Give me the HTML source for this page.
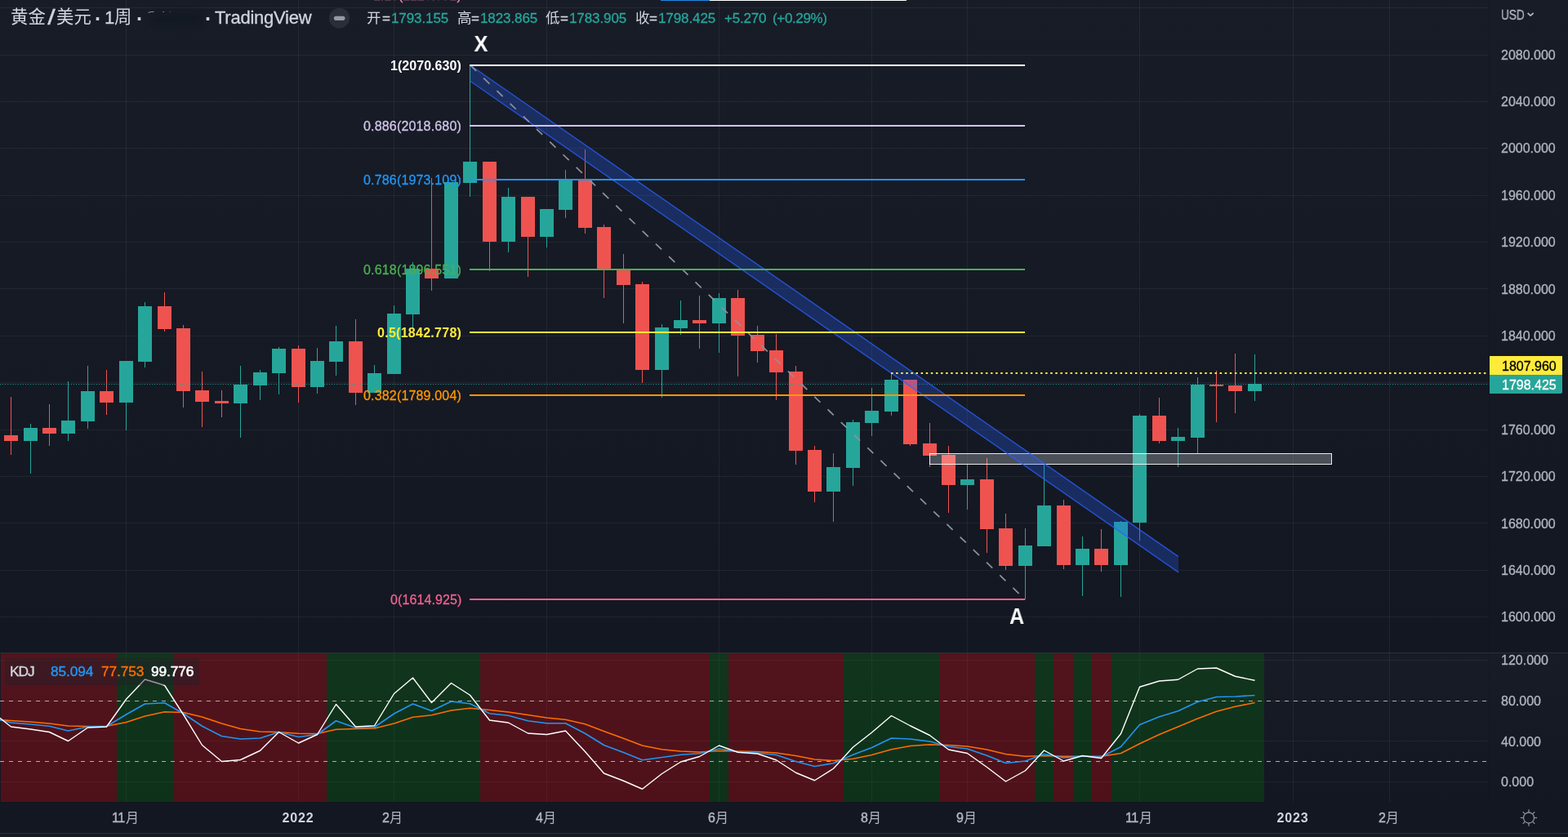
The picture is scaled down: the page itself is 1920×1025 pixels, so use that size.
<!DOCTYPE html>
<html lang="zh"><head><meta charset="utf-8"><title>黄金/美元 · 1周 · TradingView</title>
<style>
html,body{margin:0;padding:0;background:#131722;}
body{width:1920px;height:1025px;overflow:hidden;position:relative;font-family:"Liberation Sans","Noto Sans CJK SC",sans-serif;}
.t{position:absolute;white-space:nowrap;font-family:"Liberation Sans","Noto Sans CJK SC",sans-serif;will-change:transform;-webkit-text-stroke:0.3px;}
</style></head><body>
<svg width="1920" height="1025" viewBox="0 0 1920 1025" style="position:absolute;left:0;top:0">
<defs><linearGradient id="pg" x1="0" y1="0" x2="0" y2="1"><stop offset="0" stop-color="#181c27"/><stop offset="1" stop-color="#131722"/></linearGradient></defs>
<rect x="0" y="0" width="1920" height="1025" fill="#131722"/>
<rect x="0" y="0" width="1920" height="799" fill="url(#pg)"/>
<rect x="0" y="800" width="1920" height="182" fill="url(#pg)"/>
<rect x="0" y="1021" width="1920" height="4" fill="#161a25"/>
<g fill="#f0f3fa" fill-opacity="0.06" shape-rendering="crispEdges"><rect x="154" y="0" width="1" height="799"/><rect x="154" y="800" width="1" height="182"/><rect x="365" y="0" width="1" height="799"/><rect x="365" y="800" width="1" height="182"/><rect x="482" y="0" width="1" height="799"/><rect x="482" y="800" width="1" height="182"/><rect x="669" y="0" width="1" height="799"/><rect x="669" y="800" width="1" height="182"/><rect x="880" y="0" width="1" height="799"/><rect x="880" y="800" width="1" height="182"/><rect x="1067" y="0" width="1" height="799"/><rect x="1067" y="800" width="1" height="182"/><rect x="1184" y="0" width="1" height="799"/><rect x="1184" y="800" width="1" height="182"/><rect x="1395" y="0" width="1" height="799"/><rect x="1395" y="800" width="1" height="182"/><rect x="1583" y="0" width="1" height="799"/><rect x="1583" y="800" width="1" height="182"/><rect x="1701" y="0" width="1" height="799"/><rect x="1701" y="800" width="1" height="182"/><rect x="0" y="9" width="1823" height="1"/><rect x="0" y="67" width="1823" height="1"/><rect x="0" y="124" width="1823" height="1"/><rect x="0" y="181" width="1823" height="1"/><rect x="0" y="239" width="1823" height="1"/><rect x="0" y="296" width="1823" height="1"/><rect x="0" y="353" width="1823" height="1"/><rect x="0" y="411" width="1823" height="1"/><rect x="0" y="468" width="1823" height="1"/><rect x="0" y="526" width="1823" height="1"/><rect x="0" y="583" width="1823" height="1"/><rect x="0" y="640" width="1823" height="1"/><rect x="0" y="698" width="1823" height="1"/><rect x="0" y="755" width="1823" height="1"/><rect x="0" y="808" width="1823" height="1"/><rect x="0" y="858" width="1823" height="1"/><rect x="0" y="907" width="1823" height="1"/><rect x="0" y="957" width="1823" height="1"/></g>
<rect x="0" y="799" width="1920" height="1" fill="#2a2e39"/>
<rect x="0" y="1020" width="1920" height="1" fill="#2a2e39"/>
<rect x="1823" y="0" width="1" height="982" fill="#0a0d14" fill-opacity="0.35"/>
<g shape-rendering="crispEdges"><rect x="1" y="800" width="142" height="182" fill="rgba(255,0,0,0.25)"/><rect x="143" y="800" width="70" height="182" fill="rgba(0,128,0,0.25)"/><rect x="213" y="800" width="187" height="182" fill="rgba(255,0,0,0.25)"/><rect x="400" y="800" width="188" height="182" fill="rgba(0,128,0,0.25)"/><rect x="588" y="800" width="281" height="182" fill="rgba(255,0,0,0.25)"/><rect x="869" y="800" width="23" height="182" fill="rgba(0,128,0,0.25)"/><rect x="892" y="800" width="141" height="182" fill="rgba(255,0,0,0.25)"/><rect x="1033" y="800" width="117" height="182" fill="rgba(0,128,0,0.25)"/><rect x="1150" y="800" width="117" height="182" fill="rgba(255,0,0,0.25)"/><rect x="1267" y="800" width="23" height="182" fill="rgba(0,128,0,0.25)"/><rect x="1290" y="800" width="24" height="182" fill="rgba(255,0,0,0.25)"/><rect x="1314" y="800" width="23" height="182" fill="rgba(0,128,0,0.25)"/><rect x="1337" y="800" width="24" height="182" fill="rgba(255,0,0,0.25)"/><rect x="1361" y="800" width="187" height="182" fill="rgba(0,128,0,0.25)"/></g>
<g shape-rendering="crispEdges"><rect x="13" y="486" width="1" height="71" fill="#ef5350"/><rect x="5" y="533" width="17" height="7" fill="#ef5350"/><rect x="37" y="519" width="1" height="61" fill="#26a69a"/><rect x="29" y="524" width="17" height="16" fill="#26a69a"/><rect x="60" y="495" width="1" height="51" fill="#ef5350"/><rect x="52" y="524" width="17" height="7" fill="#ef5350"/><rect x="83" y="467" width="1" height="73" fill="#26a69a"/><rect x="75" y="515" width="17" height="16" fill="#26a69a"/><rect x="107" y="448" width="1" height="77" fill="#26a69a"/><rect x="99" y="479" width="17" height="37" fill="#26a69a"/><rect x="130" y="453" width="1" height="55" fill="#ef5350"/><rect x="122" y="479" width="17" height="14" fill="#ef5350"/><rect x="154" y="442" width="1" height="85" fill="#26a69a"/><rect x="146" y="442" width="17" height="51" fill="#26a69a"/><rect x="177" y="370" width="1" height="80" fill="#26a69a"/><rect x="169" y="375" width="17" height="68" fill="#26a69a"/><rect x="201" y="358" width="1" height="48" fill="#ef5350"/><rect x="193" y="375" width="17" height="28" fill="#ef5350"/><rect x="224" y="398" width="1" height="101" fill="#ef5350"/><rect x="216" y="402" width="17" height="77" fill="#ef5350"/><rect x="247" y="455" width="1" height="68" fill="#ef5350"/><rect x="239" y="478" width="17" height="14" fill="#ef5350"/><rect x="271" y="478" width="1" height="33" fill="#ef5350"/><rect x="263" y="491" width="17" height="3" fill="#ef5350"/><rect x="294" y="448" width="1" height="88" fill="#26a69a"/><rect x="286" y="471" width="17" height="23" fill="#26a69a"/><rect x="318" y="453" width="1" height="37" fill="#26a69a"/><rect x="310" y="456" width="17" height="16" fill="#26a69a"/><rect x="341" y="425" width="1" height="58" fill="#26a69a"/><rect x="333" y="427" width="17" height="30" fill="#26a69a"/><rect x="365" y="423" width="1" height="70" fill="#ef5350"/><rect x="357" y="427" width="17" height="47" fill="#ef5350"/><rect x="388" y="426" width="1" height="56" fill="#26a69a"/><rect x="380" y="442" width="17" height="32" fill="#26a69a"/><rect x="411" y="399" width="1" height="61" fill="#26a69a"/><rect x="403" y="418" width="17" height="25" fill="#26a69a"/><rect x="435" y="391" width="1" height="105" fill="#ef5350"/><rect x="427" y="418" width="17" height="63" fill="#ef5350"/><rect x="458" y="447" width="1" height="34" fill="#26a69a"/><rect x="450" y="457" width="17" height="24" fill="#26a69a"/><rect x="482" y="374" width="1" height="84" fill="#26a69a"/><rect x="474" y="384" width="17" height="74" fill="#26a69a"/><rect x="505" y="321" width="1" height="80" fill="#26a69a"/><rect x="497" y="329" width="17" height="56" fill="#26a69a"/><rect x="528" y="218" width="1" height="138" fill="#ef5350"/><rect x="520" y="329" width="17" height="12" fill="#ef5350"/><rect x="552" y="223" width="1" height="118" fill="#26a69a"/><rect x="544" y="223" width="17" height="118" fill="#26a69a"/><rect x="575" y="81" width="1" height="160" fill="#26a69a"/><rect x="567" y="198" width="17" height="26" fill="#26a69a"/><rect x="599" y="198" width="1" height="134" fill="#ef5350"/><rect x="591" y="198" width="17" height="98" fill="#ef5350"/><rect x="622" y="230" width="1" height="79" fill="#26a69a"/><rect x="614" y="241" width="17" height="55" fill="#26a69a"/><rect x="646" y="241" width="1" height="98" fill="#ef5350"/><rect x="638" y="241" width="17" height="49" fill="#ef5350"/><rect x="669" y="256" width="1" height="47" fill="#26a69a"/><rect x="661" y="256" width="17" height="34" fill="#26a69a"/><rect x="692" y="208" width="1" height="59" fill="#26a69a"/><rect x="684" y="221" width="17" height="36" fill="#26a69a"/><rect x="716" y="183" width="1" height="103" fill="#ef5350"/><rect x="708" y="220" width="17" height="59" fill="#ef5350"/><rect x="739" y="275" width="1" height="90" fill="#ef5350"/><rect x="731" y="278" width="17" height="51" fill="#ef5350"/><rect x="763" y="311" width="1" height="85" fill="#ef5350"/><rect x="755" y="331" width="17" height="18" fill="#ef5350"/><rect x="786" y="345" width="1" height="124" fill="#ef5350"/><rect x="778" y="348" width="17" height="105" fill="#ef5350"/><rect x="810" y="397" width="1" height="90" fill="#26a69a"/><rect x="802" y="401" width="17" height="52" fill="#26a69a"/><rect x="833" y="368" width="1" height="42" fill="#26a69a"/><rect x="825" y="392" width="17" height="10" fill="#26a69a"/><rect x="856" y="362" width="1" height="65" fill="#ef5350"/><rect x="848" y="392" width="17" height="4" fill="#ef5350"/><rect x="880" y="359" width="1" height="73" fill="#26a69a"/><rect x="872" y="365" width="17" height="31" fill="#26a69a"/><rect x="903" y="355" width="1" height="106" fill="#ef5350"/><rect x="895" y="365" width="17" height="46" fill="#ef5350"/><rect x="927" y="399" width="1" height="45" fill="#ef5350"/><rect x="919" y="410" width="17" height="20" fill="#ef5350"/><rect x="950" y="409" width="1" height="81" fill="#ef5350"/><rect x="942" y="429" width="17" height="27" fill="#ef5350"/><rect x="974" y="448" width="1" height="121" fill="#ef5350"/><rect x="966" y="455" width="17" height="97" fill="#ef5350"/><rect x="997" y="546" width="1" height="69" fill="#ef5350"/><rect x="989" y="551" width="17" height="51" fill="#ef5350"/><rect x="1020" y="555" width="1" height="84" fill="#26a69a"/><rect x="1012" y="572" width="17" height="30" fill="#26a69a"/><rect x="1044" y="514" width="1" height="81" fill="#26a69a"/><rect x="1036" y="517" width="17" height="56" fill="#26a69a"/><rect x="1067" y="475" width="1" height="59" fill="#26a69a"/><rect x="1059" y="503" width="17" height="15" fill="#26a69a"/><rect x="1091" y="457" width="1" height="52" fill="#26a69a"/><rect x="1083" y="465" width="17" height="39" fill="#26a69a"/><rect x="1114" y="465" width="1" height="81" fill="#ef5350"/><rect x="1106" y="465" width="17" height="79" fill="#ef5350"/><rect x="1138" y="518" width="1" height="54" fill="#ef5350"/><rect x="1130" y="543" width="17" height="15" fill="#ef5350"/><rect x="1161" y="546" width="1" height="82" fill="#ef5350"/><rect x="1153" y="557" width="17" height="37" fill="#ef5350"/><rect x="1184" y="569" width="1" height="55" fill="#26a69a"/><rect x="1176" y="587" width="17" height="7" fill="#26a69a"/><rect x="1208" y="561" width="1" height="116" fill="#ef5350"/><rect x="1200" y="587" width="17" height="61" fill="#ef5350"/><rect x="1231" y="629" width="1" height="69" fill="#ef5350"/><rect x="1223" y="647" width="17" height="46" fill="#ef5350"/><rect x="1255" y="647" width="1" height="87" fill="#26a69a"/><rect x="1247" y="668" width="17" height="25" fill="#26a69a"/><rect x="1278" y="569" width="1" height="100" fill="#26a69a"/><rect x="1270" y="619" width="17" height="50" fill="#26a69a"/><rect x="1302" y="612" width="1" height="85" fill="#ef5350"/><rect x="1294" y="619" width="17" height="73" fill="#ef5350"/><rect x="1325" y="657" width="1" height="73" fill="#26a69a"/><rect x="1317" y="672" width="17" height="20" fill="#26a69a"/><rect x="1348" y="648" width="1" height="52" fill="#ef5350"/><rect x="1340" y="672" width="17" height="20" fill="#ef5350"/><rect x="1372" y="638" width="1" height="93" fill="#26a69a"/><rect x="1364" y="639" width="17" height="53" fill="#26a69a"/><rect x="1395" y="507" width="1" height="155" fill="#26a69a"/><rect x="1387" y="509" width="17" height="131" fill="#26a69a"/><rect x="1419" y="487" width="1" height="56" fill="#ef5350"/><rect x="1411" y="509" width="17" height="31" fill="#ef5350"/><rect x="1442" y="524" width="1" height="48" fill="#26a69a"/><rect x="1434" y="535" width="17" height="5" fill="#26a69a"/><rect x="1466" y="462" width="1" height="93" fill="#26a69a"/><rect x="1458" y="471" width="17" height="65" fill="#26a69a"/><rect x="1489" y="454" width="1" height="63" fill="#ef5350"/><rect x="1481" y="471" width="17" height="2" fill="#ef5350"/><rect x="1512" y="433" width="1" height="73" fill="#ef5350"/><rect x="1504" y="472" width="17" height="7" fill="#ef5350"/><rect x="1536" y="434" width="1" height="57" fill="#26a69a"/><rect x="1528" y="470" width="17" height="9" fill="#26a69a"/></g>
<line x1="0" y1="470.5" x2="1823" y2="470.5" stroke="#26a69a" stroke-width="1" stroke-dasharray="1 2.1"/>
<rect x="1138.5" y="555.5" width="492" height="13" fill="#ffffff" fill-opacity="0.24" stroke="#ffffff" stroke-opacity="0.9" stroke-width="1"/>
<path d="M576 80 L1443 681.6 L1443 700.8 L576 99.5 Z" fill="#2962ff" fill-opacity="0.28"/>
<path d="M576 80 L1443 681.6 M576 99.5 L1443 700.8" stroke="#2962ff" stroke-opacity="0.75" stroke-width="1.4" fill="none"/>
<line x1="576" y1="80" x2="1254.5" y2="733.5" stroke="#8f929b" stroke-width="1.7" stroke-dasharray="10 12.5"/>
<g shape-rendering="crispEdges"><rect x="575" y="79" width="680" height="2" fill="#ffffff"/><rect x="575" y="153" width="680" height="2" fill="#d1c4e9"/><rect x="575" y="219" width="680" height="2" fill="#2196f3"/><rect x="575" y="329" width="680" height="2" fill="#4caf50"/><rect x="575" y="406" width="680" height="2" fill="#ffeb3b"/><rect x="575" y="483" width="680" height="2" fill="#ff9800"/><rect x="575" y="733" width="680" height="2" fill="#f06292"/><rect x="809" y="0" width="60" height="1" fill="#1e88e5"/><rect x="869" y="0" width="241" height="1" fill="#ffffff"/></g>
<line x1="1091" y1="457" x2="1823" y2="457" stroke="#ffeb3b" stroke-width="2" stroke-dasharray="2.5 3.6"/>
<line x1="0" y1="858.5" x2="1823" y2="858.5" stroke="#b0b0ab" stroke-width="1" stroke-dasharray="5 6"/>
<line x1="0" y1="932.5" x2="1823" y2="932.5" stroke="#b0b0ab" stroke-width="1" stroke-dasharray="5 6"/>
<polyline fill="none" stroke="#ff6d00" stroke-width="1.6" stroke-linejoin="round" points="-9.5,881.00 13.5,882.50 37.5,884.00 60.5,886.00 83.5,889.00 107.5,889.50 130.5,889.25 154.5,884.50 177.5,877.00 201.5,871.75 224.5,872.50 247.5,878.00 271.5,886.00 294.5,892.50 318.5,896.00 341.5,896.50 365.5,898.25 388.5,898.50 411.5,893.25 435.5,892.50 458.5,892.00 482.5,886.00 505.5,878.25 528.5,875.75 552.5,870.00 575.5,867.25 599.5,869.50 622.5,872.00 646.5,875.50 669.5,879.00 692.5,881.25 716.5,886.75 739.5,895.50 763.5,904.25 786.5,913.00 810.5,917.75 833.5,920.00 856.5,921.00 880.5,919.50 903.5,920.00 927.5,920.50 950.5,922.00 974.5,925.50 997.5,930.00 1020.5,931.50 1044.5,929.25 1067.5,924.50 1091.5,917.75 1114.5,913.50 1138.5,911.75 1161.5,912.50 1184.5,914.00 1208.5,918.00 1231.5,923.50 1255.5,926.25 1278.5,925.50 1302.5,926.25 1325.5,926.25 1348.5,926.25 1372.5,922.50 1395.5,910.75 1419.5,899.50 1442.5,890.00 1466.5,880.00 1489.5,871.25 1512.5,865.25 1536.5,860.50"/>
<polyline fill="none" stroke="#2196f3" stroke-width="1.6" stroke-linejoin="round" points="-9.5,879.50 13.5,885.00 37.5,887.00 60.5,889.25 83.5,895.00 107.5,890.00 130.5,889.50 154.5,875.00 177.5,862.00 201.5,860.75 224.5,873.75 247.5,889.25 271.5,901.50 294.5,905.00 318.5,904.00 341.5,896.50 365.5,902.50 388.5,899.50 411.5,882.75 435.5,891.25 458.5,890.50 482.5,874.00 505.5,862.00 528.5,870.50 552.5,859.00 575.5,861.75 599.5,873.75 622.5,876.25 646.5,882.75 669.5,885.75 692.5,885.75 716.5,898.25 739.5,912.50 763.5,921.50 786.5,930.75 810.5,927.50 833.5,924.25 856.5,922.75 880.5,917.00 903.5,920.50 927.5,922.00 950.5,924.50 974.5,932.50 997.5,938.50 1020.5,934.75 1044.5,924.25 1067.5,915.50 1091.5,904.00 1114.5,905.00 1138.5,908.00 1161.5,914.25 1184.5,917.00 1208.5,925.25 1231.5,934.50 1255.5,932.00 1278.5,923.50 1302.5,928.00 1325.5,926.00 1348.5,927.00 1372.5,914.50 1395.5,887.50 1419.5,877.75 1442.5,870.75 1466.5,859.50 1489.5,853.50 1512.5,853.00 1536.5,851.50"/>
<polyline fill="none" stroke="#ffffff" stroke-width="1.4" stroke-linejoin="round" points="-9.5,872.00 13.5,890.00 37.5,893.00 60.5,896.50 83.5,907.50 107.5,891.00 130.5,890.00 154.5,856.25 177.5,832.00 201.5,839.25 224.5,875.00 247.5,912.50 271.5,932.50 294.5,930.50 318.5,919.25 341.5,896.50 365.5,910.00 388.5,899.50 411.5,862.50 435.5,890.00 458.5,888.75 482.5,849.50 505.5,830.00 528.5,860.50 552.5,836.50 575.5,851.25 599.5,882.00 622.5,885.00 646.5,898.00 669.5,899.50 692.5,895.00 716.5,920.50 739.5,947.00 763.5,956.25 786.5,966.25 810.5,947.50 833.5,933.00 856.5,926.50 880.5,913.00 903.5,921.25 927.5,923.00 950.5,930.75 974.5,946.25 997.5,955.75 1020.5,941.25 1044.5,915.00 1067.5,897.00 1091.5,876.50 1114.5,888.75 1138.5,900.50 1161.5,918.00 1184.5,922.50 1208.5,939.50 1231.5,957.00 1255.5,943.75 1278.5,919.00 1302.5,932.00 1325.5,925.50 1348.5,928.50 1372.5,898.50 1395.5,841.25 1419.5,834.00 1442.5,832.25 1466.5,819.00 1489.5,818.00 1512.5,828.25 1536.5,833.25"/>
<rect x="6" y="806" width="238" height="33" rx="2" fill="#24202a" fill-opacity="0.45"/>
<rect x="1824" y="436" width="89" height="23" fill="#ffeb3b"/>
<path d="M1824 459 H1913 V480 Q1913 482 1911 482 H1824 Z" fill="#26a69a"/>
<circle cx="415.5" cy="22.2" r="12.5" fill="#2a2e39"/><rect x="408.8" y="19.7" width="13.7" height="5.2" rx="2.6" fill="#9698a2"/>
<path d="M1870.6 16 L1874.1 19.2 L1877.6 16" stroke="#b2b5be" stroke-width="1.7" fill="none"/>
<g stroke="#8a8e9c" stroke-width="1.3" fill="none"><circle cx="1872" cy="1001.5" r="6.5"/><line x1="1878.50" y1="1001.50" x2="1882.20" y2="1001.50"/><line x1="1876.60" y1="1006.10" x2="1879.21" y2="1008.71"/><line x1="1872.00" y1="1008.00" x2="1872.00" y2="1011.70"/><line x1="1867.40" y1="1006.10" x2="1864.79" y2="1008.71"/><line x1="1865.50" y1="1001.50" x2="1861.80" y2="1001.50"/><line x1="1867.40" y1="996.90" x2="1864.79" y2="994.29"/><line x1="1872.00" y1="995.00" x2="1872.00" y2="991.30"/><line x1="1876.60" y1="996.90" x2="1879.21" y2="994.29"/></g>
<defs><filter id="bl" x="-20%" y="-50%" width="140%" height="200%"><feGaussianBlur stdDeviation="3"/></filter></defs>
<g filter="url(#bl)" opacity="0.38"><rect x="186" y="15" width="30" height="17" rx="7" fill="#10131c"/><rect x="205" y="13" width="44" height="20" rx="9" fill="#11141d"/></g>
<path d="M181.5 15.6 Q183 14.3 188.5 14.4" stroke="#d1d4dc" stroke-opacity="0.7" stroke-width="0.9" fill="none"/><rect x="199.3" y="14" width="1.6" height="1" fill="#d1d4dc" fill-opacity="0.55"/><rect x="207.6" y="14.2" width="1.2" height="0.9" fill="#d1d4dc" fill-opacity="0.35"/>
</svg>
<div class="t" style="top:8.90px;font-size:22px;line-height:26.40px;color:#d1d4dc;left:59.9px;transform:scale(1.55,1.13);">/</div>
<div class="t" style="top:8.30px;font-size:25px;line-height:30.00px;color:#d1d4dc;left:116.0px;font-weight:700;-webkit-text-stroke:0;">·</div>
<div class="t" style="top:8.90px;font-size:22px;line-height:26.40px;color:#d1d4dc;left:128.2px;">1</div>
<div class="t" style="top:8.30px;font-size:25px;line-height:30.00px;color:#d1d4dc;left:166.7px;font-weight:700;-webkit-text-stroke:0;">·</div>
<div class="t" style="top:8.30px;font-size:25px;line-height:30.00px;color:#d1d4dc;left:251.0px;font-weight:700;-webkit-text-stroke:0;">·</div>
<div class="t" style="top:8.90px;font-size:22px;line-height:26.40px;color:#d1d4dc;left:262.6px;letter-spacing:-0.25px;">TradingView</div>
<div class="t" style="top:13.10px;font-size:17px;line-height:20.40px;color:#d1d4dc;left:467.7px;">=</div>
<div class="t" style="top:13.10px;font-size:17px;line-height:20.40px;color:#26a69a;left:479px;letter-spacing:-0.1px;">1793.155</div>
<div class="t" style="top:13.10px;font-size:17px;line-height:20.40px;color:#d1d4dc;left:576.7px;">=</div>
<div class="t" style="top:13.10px;font-size:17px;line-height:20.40px;color:#26a69a;left:588.2px;letter-spacing:-0.1px;">1823.865</div>
<div class="t" style="top:13.10px;font-size:17px;line-height:20.40px;color:#d1d4dc;left:686px;">=</div>
<div class="t" style="top:13.10px;font-size:17px;line-height:20.40px;color:#26a69a;left:697.2px;letter-spacing:-0.1px;">1783.905</div>
<div class="t" style="top:13.10px;font-size:17px;line-height:20.40px;color:#d1d4dc;left:795.3px;">=</div>
<div class="t" style="top:13.10px;font-size:17px;line-height:20.40px;color:#26a69a;left:806px;letter-spacing:-0.1px;">1798.425</div>
<div class="t" style="top:13.10px;font-size:17px;line-height:20.40px;color:#26a69a;left:886.7px;letter-spacing:-0.2px;">+5.270</div>
<div class="t" style="top:13.10px;font-size:17px;line-height:20.40px;color:#26a69a;left:946.2px;letter-spacing:-0.35px;">(+0.29%)</div>
<div class="t" style="top:37.00px;font-size:27.5px;line-height:33.00px;color:#ffffff;left:388.5px;width:400px;text-align:center;font-weight:700;-webkit-text-stroke:0;transform:scaleX(0.92);">X</div>
<div class="t" style="top:738.20px;font-size:28px;line-height:33.60px;color:#ffffff;left:1045px;width:400px;text-align:center;font-weight:700;-webkit-text-stroke:0;transform:scaleX(0.9);">A</div>
<div class="t" style="top:70.90px;font-size:16px;line-height:19.20px;color:#ffffff;right:1355px;font-weight:700;-webkit-text-stroke:0;letter-spacing:0.05px;">1(2070.630)</div>
<div class="t" style="top:145.40px;font-size:16px;line-height:19.20px;color:#d1c4e9;right:1355px;letter-spacing:0.17px;">0.886(2018.680)</div>
<div class="t" style="top:210.90px;font-size:16px;line-height:19.20px;color:#2196f3;right:1355px;letter-spacing:0.17px;">0.786(1973.109)</div>
<div class="t" style="top:320.90px;font-size:16px;line-height:19.20px;color:#4caf50;right:1355px;letter-spacing:0.17px;">0.618(1896.551)</div>
<div class="t" style="top:397.90px;font-size:16px;line-height:19.20px;color:#ffeb3b;right:1355px;font-weight:700;-webkit-text-stroke:0;letter-spacing:0.27px;">0.5(1842.778)</div>
<div class="t" style="top:474.90px;font-size:16px;line-height:19.20px;color:#ff9800;right:1355px;letter-spacing:0.17px;">0.382(1789.004)</div>
<div class="t" style="top:724.90px;font-size:16px;line-height:19.20px;color:#f06292;right:1355px;letter-spacing:0.1px;">0(1614.925)</div>
<div class="t" style="top:-14.60px;font-size:16px;line-height:19.20px;color:#f48fb1;right:1355.3px;letter-spacing:-0.05px;">1.13(2129.972)</div>
<div class="t" style="top:57.90px;font-size:16px;line-height:19.20px;color:#b2b5be;left:1838px;">2080.000</div>
<div class="t" style="top:114.90px;font-size:16px;line-height:19.20px;color:#b2b5be;left:1838px;">2040.000</div>
<div class="t" style="top:171.90px;font-size:16px;line-height:19.20px;color:#b2b5be;left:1838px;">2000.000</div>
<div class="t" style="top:229.90px;font-size:16px;line-height:19.20px;color:#b2b5be;left:1838px;">1960.000</div>
<div class="t" style="top:286.90px;font-size:16px;line-height:19.20px;color:#b2b5be;left:1838px;">1920.000</div>
<div class="t" style="top:344.90px;font-size:16px;line-height:19.20px;color:#b2b5be;left:1838px;">1880.000</div>
<div class="t" style="top:401.90px;font-size:16px;line-height:19.20px;color:#b2b5be;left:1838px;">1840.000</div>
<div class="t" style="top:516.90px;font-size:16px;line-height:19.20px;color:#b2b5be;left:1838px;">1760.000</div>
<div class="t" style="top:573.90px;font-size:16px;line-height:19.20px;color:#b2b5be;left:1838px;">1720.000</div>
<div class="t" style="top:631.90px;font-size:16px;line-height:19.20px;color:#b2b5be;left:1838px;">1680.000</div>
<div class="t" style="top:688.90px;font-size:16px;line-height:19.20px;color:#b2b5be;left:1838px;">1640.000</div>
<div class="t" style="top:745.90px;font-size:16px;line-height:19.20px;color:#b2b5be;left:1838px;">1600.000</div>
<div class="t" style="top:8.70px;font-size:16px;line-height:19.20px;color:#b2b5be;left:1838px;transform:scaleX(0.85);transform-origin:0 50%;">USD</div>
<div class="t" style="top:439.40px;font-size:16px;line-height:19.20px;color:#000000;left:1839px;">1807.960</div>
<div class="t" style="top:462.40px;font-size:16px;line-height:19.20px;color:#ffffff;left:1839px;">1798.425</div>
<div class="t" style="top:798.90px;font-size:16px;line-height:19.20px;color:#b2b5be;left:1838px;">120.000</div>
<div class="t" style="top:848.90px;font-size:16px;line-height:19.20px;color:#b2b5be;left:1838px;">80.000</div>
<div class="t" style="top:898.90px;font-size:16px;line-height:19.20px;color:#b2b5be;left:1838px;">40.000</div>
<div class="t" style="top:947.90px;font-size:16px;line-height:19.20px;color:#b2b5be;left:1838px;">0.000</div>
<div class="t" style="top:812.42px;font-size:17.3px;line-height:20.76px;color:#d1d4dc;left:12.3px;letter-spacing:-1.0px;-webkit-text-stroke:0.4px;">KDJ</div>
<div class="t" style="top:812.42px;font-size:17.3px;line-height:20.76px;color:#2196f3;left:61.8px;letter-spacing:-0.1px;-webkit-text-stroke:0.4px;">85.094</div>
<div class="t" style="top:812.42px;font-size:17.3px;line-height:20.76px;color:#ff6d00;left:123.6px;letter-spacing:-0.1px;-webkit-text-stroke:0.4px;">77.753</div>
<div class="t" style="top:812.42px;font-size:17.3px;line-height:20.76px;color:#ffffff;left:185px;letter-spacing:-0.1px;-webkit-text-stroke:0.6px;">99.776</div>
<div class="t" style="top:991.70px;font-size:16px;line-height:19.20px;color:#b2b5be;left:136.7px;letter-spacing:-0.5px;-webkit-text-stroke:0.45px;">11</div>
<div class="t" style="top:991.70px;font-size:16px;line-height:19.20px;color:#b2b5be;left:468.40000000000003px;letter-spacing:-0.5px;-webkit-text-stroke:0.45px;">2</div>
<div class="t" style="top:991.70px;font-size:16px;line-height:19.20px;color:#b2b5be;left:655.9px;letter-spacing:-0.5px;-webkit-text-stroke:0.45px;">4</div>
<div class="t" style="top:991.70px;font-size:16px;line-height:19.20px;color:#b2b5be;left:866.9px;letter-spacing:-0.5px;-webkit-text-stroke:0.45px;">6</div>
<div class="t" style="top:991.70px;font-size:16px;line-height:19.20px;color:#b2b5be;left:1053.8999999999999px;letter-spacing:-0.5px;-webkit-text-stroke:0.45px;">8</div>
<div class="t" style="top:991.70px;font-size:16px;line-height:19.20px;color:#b2b5be;left:1170.8999999999999px;letter-spacing:-0.5px;-webkit-text-stroke:0.45px;">9</div>
<div class="t" style="top:991.70px;font-size:16px;line-height:19.20px;color:#b2b5be;left:1377.6999999999998px;letter-spacing:-0.5px;-webkit-text-stroke:0.45px;">11</div>
<div class="t" style="top:991.70px;font-size:16px;line-height:19.20px;color:#b2b5be;left:1687.8999999999999px;letter-spacing:-0.5px;-webkit-text-stroke:0.45px;">2</div>
<div class="t" style="top:991.70px;font-size:16px;line-height:19.20px;color:#d1d4dc;left:165.3px;width:400px;text-align:center;font-weight:700;-webkit-text-stroke:0;letter-spacing:0.9px;">2022</div>
<div class="t" style="top:991.70px;font-size:16px;line-height:19.20px;color:#d1d4dc;left:1383.3px;width:400px;text-align:center;font-weight:700;-webkit-text-stroke:0;letter-spacing:0.9px;">2023</div>
<div class="t" style="top:9.26px;font-size:21.4px;line-height:25.68px;color:#d1d4dc;left:12.6px;-webkit-text-stroke:0;">黄金</div>
<div class="t" style="top:9.26px;font-size:21.4px;line-height:25.68px;color:#d1d4dc;left:68.9px;-webkit-text-stroke:0;">美元</div>
<div class="t" style="top:9.26px;font-size:21.4px;line-height:25.68px;color:#d1d4dc;left:139.8px;-webkit-text-stroke:0;">周</div>
<div class="t" style="top:12.00px;font-size:17.5px;line-height:21.00px;color:#d1d4dc;left:449.4px;-webkit-text-stroke:0;">开</div>
<div class="t" style="top:12.00px;font-size:17.5px;line-height:21.00px;color:#d1d4dc;left:559.7px;-webkit-text-stroke:0;">高</div>
<div class="t" style="top:12.00px;font-size:17.5px;line-height:21.00px;color:#d1d4dc;left:668.4px;-webkit-text-stroke:0;">低</div>
<div class="t" style="top:12.00px;font-size:17.5px;line-height:21.00px;color:#d1d4dc;left:777.5px;-webkit-text-stroke:0;">收</div>
<div class="t" style="top:991.70px;font-size:16px;line-height:19.20px;color:#b2b5be;left:154.0px;-webkit-text-stroke:0;">月</div>
<div class="t" style="top:991.70px;font-size:16px;line-height:19.20px;color:#b2b5be;left:477.3px;-webkit-text-stroke:0;">月</div>
<div class="t" style="top:991.70px;font-size:16px;line-height:19.20px;color:#b2b5be;left:664.8px;-webkit-text-stroke:0;">月</div>
<div class="t" style="top:991.70px;font-size:16px;line-height:19.20px;color:#b2b5be;left:875.8px;-webkit-text-stroke:0;">月</div>
<div class="t" style="top:991.70px;font-size:16px;line-height:19.20px;color:#b2b5be;left:1062.8px;-webkit-text-stroke:0;">月</div>
<div class="t" style="top:991.70px;font-size:16px;line-height:19.20px;color:#b2b5be;left:1179.8px;-webkit-text-stroke:0;">月</div>
<div class="t" style="top:991.70px;font-size:16px;line-height:19.20px;color:#b2b5be;left:1394.9999999999998px;-webkit-text-stroke:0;">月</div>
<div class="t" style="top:991.70px;font-size:16px;line-height:19.20px;color:#b2b5be;left:1696.8px;-webkit-text-stroke:0;">月</div>
</body></html>
